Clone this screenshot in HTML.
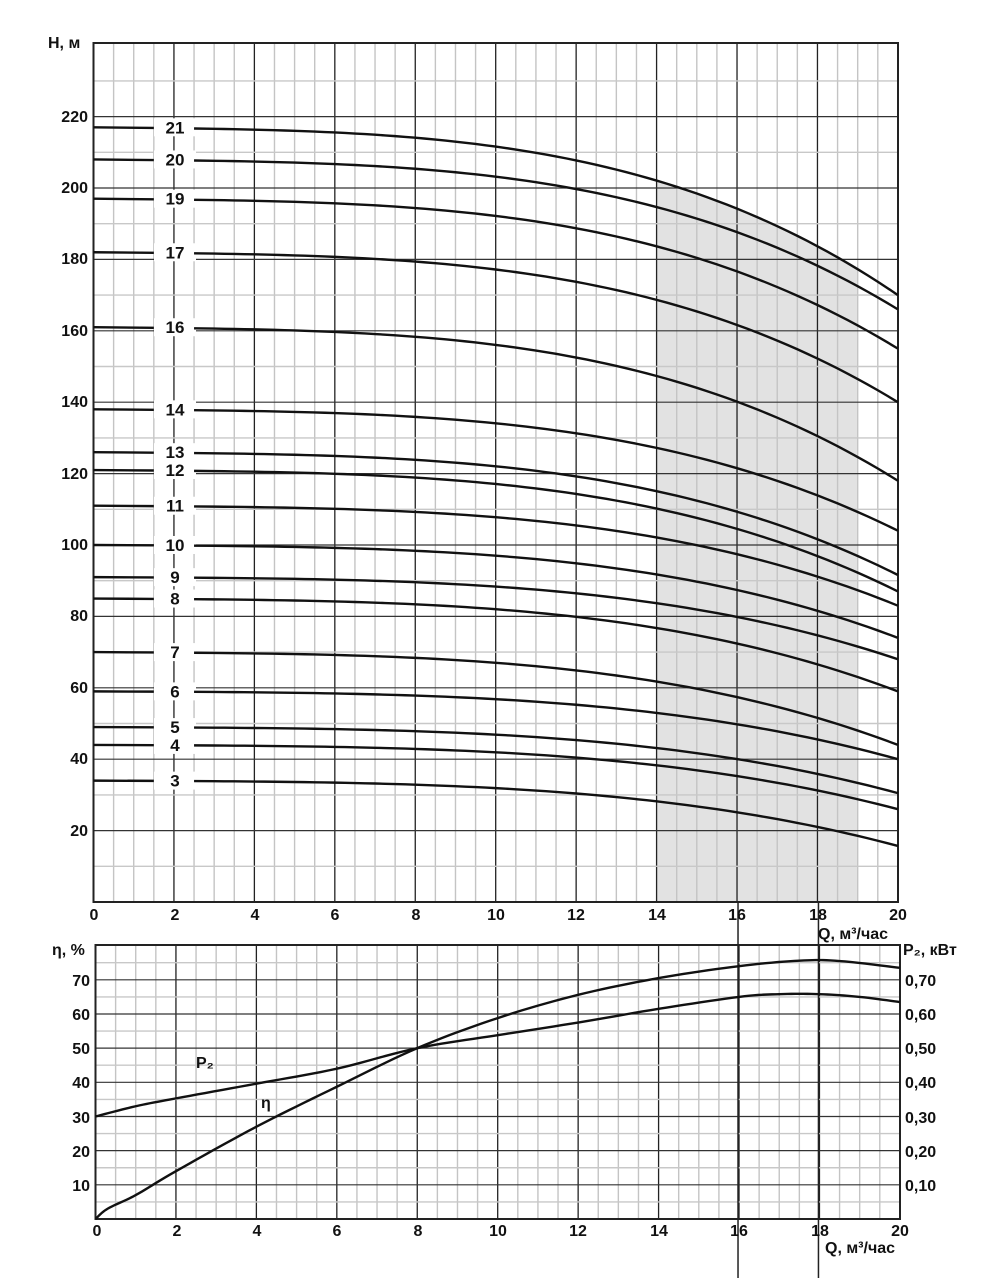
<!DOCTYPE html><html><head><meta charset="utf-8"><style>body{margin:0;background:#fff}svg{display:block}text{font-family:"Liberation Sans",sans-serif;font-weight:bold;font-size:16px;fill:#111}#lab text{font-size:17px}</style></head><body>
<svg id="s" width="1000" height="1278" viewBox="0 0 1000 1278">
<g id="g"></g>
<text x="48" y="48">H, м</text>
<g text-anchor="end">
<text x="88" y="122">220</text><text x="88" y="193">200</text><text x="88" y="264">180</text><text x="88" y="336">160</text><text x="88" y="407">140</text><text x="88" y="479">120</text><text x="88" y="550">100</text><text x="88" y="621">80</text><text x="88" y="693">60</text><text x="88" y="764">40</text><text x="88" y="836">20</text>
</g>
<g text-anchor="middle">
<text x="94" y="920">0</text><text x="175" y="920">2</text><text x="255" y="920">4</text><text x="335" y="920">6</text><text x="416" y="920">8</text><text x="496" y="920">10</text><text x="576" y="920">12</text><text x="657" y="920">14</text><text x="737" y="920">16</text><text x="818" y="920">18</text><text x="898" y="920">20</text>
<text x="97" y="1236">0</text><text x="177" y="1236">2</text><text x="257" y="1236">4</text><text x="337" y="1236">6</text><text x="418" y="1236">8</text><text x="498" y="1236">10</text><text x="578" y="1236">12</text><text x="659" y="1236">14</text><text x="739" y="1236">16</text><text x="820" y="1236">18</text><text x="900" y="1236">20</text>
</g>
<text x="818" y="939">Q, м³/час</text>
<text x="825" y="1253">Q, м³/час</text>
<text x="52" y="955">η, %</text>
<text x="903" y="955">P₂, кВт</text>
<g text-anchor="end">
<text x="90" y="986">70</text><text x="90" y="1020">60</text><text x="90" y="1054">50</text><text x="90" y="1088">40</text><text x="90" y="1123">30</text><text x="90" y="1157">20</text><text x="90" y="1191">10</text>
</g>
<text x="905" y="986">0,70</text><text x="905" y="1020">0,60</text><text x="905" y="1054">0,50</text><text x="905" y="1088">0,40</text><text x="905" y="1123">0,30</text><text x="905" y="1157">0,20</text><text x="905" y="1191">0,10</text>
<text x="196" y="1068">P₂</text><text x="261" y="1108">η</text>
<g id="lab" text-anchor="middle"></g>
</svg>
<script>
var NS="http://www.w3.org/2000/svg",g=document.getElementById('g'),lab=document.getElementById('lab');
function el(t,a,p){var e=document.createElementNS(NS,t);for(var k in a)e.setAttribute(k,a[k]);(p||g).appendChild(e);return e;}
function X(q){return 93.5+q*40.22}
function Y(h){return 902-h*3.57}
function Yb(v){return 1219-v*3.417}
var curves=[[21,217,170],[20,208,166],[19,197,155],[17,182,140],[16,161,118],[14,138,104],[13,126,91.6],[12,121,87],[11,111,83],[10,100,74],[9,91,68],[8,85,59],[7,70,44],[6,59,40],[5,49,30.5],[4,44,26],[3,34,15.7]];
function H(c,q){var t=q/20;return c[1]-(c[1]-c[2])*(0.05*t+0.95*Math.pow(t,3.4));}
var d="M"+X(14)+","+Y(0);for(var q=14;q<=19.001;q+=0.25)d+=" L"+X(q)+","+Y(H(curves[0],q));d+=" L"+X(19)+","+Y(0)+"Z";
el('path',{d:d,fill:'#e2e2e2'});
for(var i=0;i<=40;i++){var x=X(i*0.5);el('line',{x1:x,x2:x,y1:43,y2:902,stroke:i%4==0?'#222':'#c4c4c4','stroke-width':i%4==0?1.3:1.4});}
for(var h=10;h<=230;h+=10){el('line',{x1:93.5,x2:898,y1:Y(h),y2:Y(h),stroke:h%20==0?'#333':'#c8c8c8','stroke-width':h%20==0?1.2:1.4});}
el('rect',{x:93.5,y:43,width:804.5,height:859,fill:'none',stroke:'#222','stroke-width':2});
for(var i=0;i<=40;i++){var x=X(i*0.5)+2;el('line',{x1:x,x2:x,y1:945,y2:1219,stroke:i%4==0?'#222':'#c4c4c4','stroke-width':i%4==0?1.3:1.4});}
for(var v=5;v<80;v+=5){el('line',{x1:95.5,x2:900,y1:Yb(v),y2:Yb(v),stroke:v%10==0?'#333':'#c8c8c8','stroke-width':v%10==0?1.2:1.4});}
el('rect',{x:95.5,y:945,width:804.5,height:274,fill:'none',stroke:'#222','stroke-width':2});
[16,18].forEach(function(q){el('line',{x1:X(q)+1,x2:X(q)+1,y1:902,y2:1278,stroke:'#222','stroke-width':1.5});});
curves.forEach(function(c){var y=Y(c[1]);
 el('rect',{x:154,y:y-9,width:42,height:18,fill:'#fff'});
 var p="M"+X(0)+","+Y(H(c,0))+" L"+X(1.5)+","+Y(H(c,1.5))+" M"+X(2.5)+","+Y(H(c,2.5));
 for(var q=3;q<=20.001;q+=0.25)p+=" L"+X(q)+","+Y(H(c,q));
 el('path',{d:p,fill:'none',stroke:'#111','stroke-width':2.4});
 var t=el('text',{x:175,y:y+6},lab);t.textContent=c[0];});
function spl(pts){var p="";for(var i=0;i<pts.length;i++){p+=(i?" L":"M")+(X(pts[i][0])+2)+","+Yb(pts[i][1]);}return p;}
function smooth(pts){var out=[];for(var i=0;i<pts.length-1;i++){var p0=pts[Math.max(0,i-1)],p1=pts[i],p2=pts[i+1],p3=pts[Math.min(pts.length-1,i+2)];for(var s=0;s<10;s++){var t=s/10,t2=t*t,t3=t2*t;var f=function(a,b,c,d){return 0.5*((2*b)+(-a+c)*t+(2*a-5*b+4*c-d)*t2+(-a+3*b-3*c+d)*t3)};out.push([f(p0[0],p1[0],p2[0],p3[0]),f(p0[1],p1[1],p2[1],p3[1])]);}}out.push(pts[pts.length-1]);return out;}
var P2=[[0,30],[1,33],[2,35.3],[4,39.6],[6,44],[8,50],[10,53.8],[12,57.5],[14,61.5],[16,65],[17,65.8],[18,65.8],[19,65],[20,63.5]];
var ETA=[[0,0],[0.3,3],[1,7],[2,14],[4,27],[6,38.7],[8,50],[10,58.8],[12,65.6],[14,70.5],[16,74],[17.5,75.6],[18.5,75.5],[20,73.5]];
el('path',{d:spl(smooth(P2)),fill:'none',stroke:'#111','stroke-width':2.4});
el('path',{d:spl(smooth(ETA)),fill:'none',stroke:'#111','stroke-width':2.4});
</script>
</body></html>
